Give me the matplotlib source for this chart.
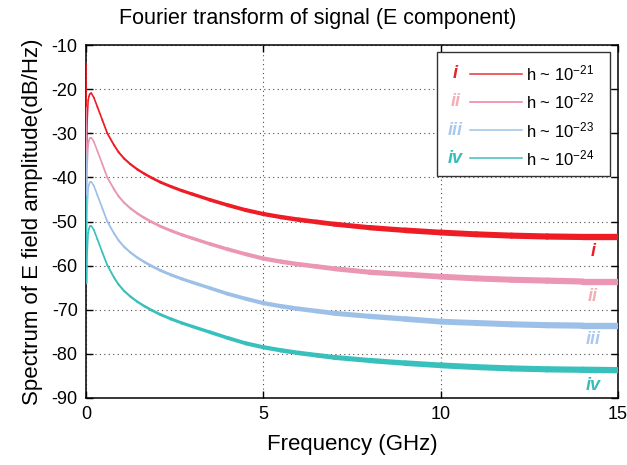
import matplotlib
matplotlib.use("Agg")
import matplotlib.pyplot as plt
import numpy as np
from matplotlib.collections import LineCollection
from matplotlib.patches import Rectangle
from matplotlib.lines import Line2D

plt.rcParams['font.family'] = ['Liberation Sans', 'DejaVu Sans']
plt.rcParams['mathtext.fontset'] = 'custom'
plt.rcParams['mathtext.rm'] = 'Liberation Sans'
plt.rcParams['mathtext.it'] = 'Liberation Sans:italic'
plt.rcParams['axes.unicode_minus'] = False

# Frequency samples (GHz) and spectrum levels (dB/Hz) for each strain amplitude
freq_ghz = [0.0, 0.015, 0.03, 0.06, 0.08, 0.10, 0.12, 0.15, 0.22, 0.32, 0.46,
            0.60, 0.79, 0.92, 1.07, 1.25, 1.45, 1.65, 1.85, 2.1, 2.4, 2.7,
            3.0, 3.5, 4.0, 4.5, 5.0, 5.5, 6.0, 6.5, 7.0, 8.0, 9.0, 10.0,
            11.0, 12.0, 13.0, 14.0, 15.0]
spec_i = [-14.2, -34.0, -27.5, -22.6, -21.7, -21.2, -21.0, -20.9, -21.9, -24.0,
          -27.0, -30.0, -32.7, -34.3, -35.7, -37.0, -38.2, -39.2, -40.1, -41.1,
          -42.1, -43.0, -43.8, -45.1, -46.3, -47.4, -48.3, -49.0, -49.6, -50.1,
          -50.6, -51.4, -52.0, -52.5, -52.9, -53.2, -53.4, -53.5, -53.5]
spec_ii = [-24.2, -44.0, -37.5, -32.6, -31.7, -31.2, -31.0, -31.0, -31.9, -34.0,
           -37.0, -40.0, -42.7, -44.3, -45.7, -47.0, -48.2, -49.2, -50.1, -51.1,
           -52.1, -53.0, -53.8, -55.1, -56.3, -57.4, -58.4, -59.1, -59.7, -60.2,
           -60.7, -61.5, -62.0, -62.5, -62.9, -63.2, -63.4, -63.6, -63.6]
spec_iii = [-34.2, -54.0, -47.5, -42.6, -41.7, -41.2, -41.0, -41.0, -41.9, -44.0,
            -47.0, -50.0, -52.7, -54.3, -55.7, -57.0, -58.2, -59.2, -60.1, -61.1,
            -62.1, -63.0, -63.8, -65.1, -66.4, -67.5, -68.5, -69.2, -69.8, -70.3,
            -70.8, -71.5, -72.1, -72.7, -73.0, -73.3, -73.5, -73.6, -73.6]
spec_iv = [-44.2, -64.0, -57.5, -52.6, -51.7, -51.2, -51.0, -51.0, -51.9, -54.0,
           -57.0, -59.9, -62.7, -64.3, -65.7, -67.0, -68.2, -69.2, -70.1, -71.1,
           -72.1, -73.0, -73.8, -75.1, -76.4, -77.6, -78.5, -79.2, -79.8, -80.3,
           -80.8, -81.5, -82.1, -82.6, -83.0, -83.3, -83.5, -83.6, -83.7]

numerals = ['i', 'ii', 'iii', 'iv']
legend_labels = [r'h ~ 10$^{-21}$', r'h ~ 10$^{-22}$', r'h ~ 10$^{-23}$', r'h ~ 10$^{-24}$']

band_colors = ['#EE1C25', '#EA96B4', '#9DC0E8', '#38C0BC']
legend_line_colors = ['#E8323A', '#EE7F9C', '#9DC3EA', '#3FC0B8']
numeral_colors = ['#E8202A', '#F5AEB4', '#A9C9EE', '#36BDB8']

fig = plt.figure(figsize=(6.27, 4.65), dpi=100)
ax = fig.add_axes([0.1372, 0.1441, 0.8484, 0.7591])

x = np.asarray(freq_ghz)
mid = 0.5 * (x[:-1] + x[1:])
# the ripple makes the traces look wider at higher frequency
widths = np.interp(mid, [0, 1, 2.5, 5, 10, 15], [1.1, 1.45, 2.2, 3.0, 4.2, 4.6])

for series, col in zip([spec_i, spec_ii, spec_iii, spec_iv], band_colors):
    pts = np.column_stack([x, series]).reshape(-1, 1, 2)
    segs = np.concatenate([pts[:-1], pts[1:]], axis=1)
    lc = LineCollection(segs, colors=col, linewidths=widths, capstyle='round',
                        joinstyle='round', zorder=3)
    ax.add_collection(lc)

ax.set_xlim(0, 15)
ax.set_ylim(-90, -10)
ax.set_xticks([0, 5, 10, 15])
ax.set_yticks(np.arange(-90, -9, 10))
ax.tick_params(direction='in', length=5, width=1, top=True, right=True,
               labelsize=13, pad=6)
for sp in ax.spines.values():
    sp.set_linewidth(1.1)
ax.grid(True, linestyle=(0, (1, 3)), color='0.3', linewidth=0.8)
ax.set_axisbelow(True)

ax.set_xlabel('Frequency (GHz)', fontsize=16, labelpad=8)
ax.set_ylabel('Spectrum of E field amplitude(dB/Hz)', fontsize=16, labelpad=6)
fig.text(0.506, 0.961, 'Fourier transform of signal (E component)',
         ha='center', va='center', fontsize=15.5)

# legend box drawn in axes coordinates
ax.add_patch(Rectangle((0.660, 0.629), 0.325, 0.351, transform=ax.transAxes,
                       facecolor='white', edgecolor='0.2', linewidth=1.0, zorder=5))
row_y = [0.919, 0.839, 0.759, 0.679]
for yy, num, lab, ncol, lcol in zip(row_y, numerals, legend_labels,
                                    numeral_colors, legend_line_colors):
    ax.text(0.694, yy, num, transform=ax.transAxes, ha='center', va='center',
            fontsize=13, fontweight='bold', style='italic', color=ncol, zorder=6)
    ax.add_line(Line2D([0.722, 0.819], [yy, yy], transform=ax.transAxes,
                       color=lcol, linewidth=1.1, zorder=6))
    ax.text(0.828, yy, lab, transform=ax.transAxes, ha='left', va='center',
            fontsize=12, zorder=6)

# roman numeral tags at the right end of each trace
tag_y = [-56.9, -67.1, -76.7, -87.1]
for yy, num, ncol in zip(tag_y, numerals, numeral_colors):
    ax.text(14.3, yy, num, ha='center', va='center', fontsize=13,
            fontweight='bold', style='italic', color=ncol, zorder=6)

fig.savefig('out.png', dpi=100, facecolor='white')
